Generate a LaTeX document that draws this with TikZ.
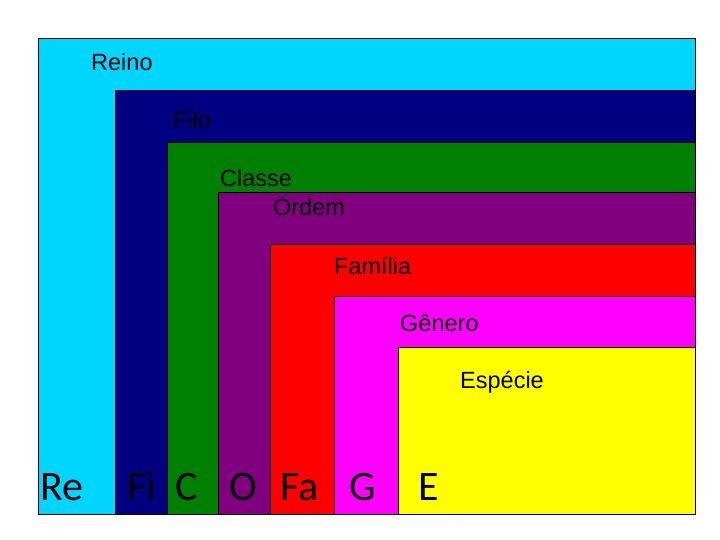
\documentclass[tikz,border=0pt]{standalone}
\usepackage{fontspec}
\setmainfont{Liberation Sans}
\newfontfamily\calib{Carlito}
\definecolor{cReino}{RGB}{0,214,255}
\definecolor{cFilo}{RGB}{0,0,128}
\definecolor{cClasse}{RGB}{0,128,0}
\definecolor{cOrdem}{RGB}{128,0,128}
\definecolor{cFam}{RGB}{255,0,0}
\definecolor{cGen}{RGB}{255,0,255}
\definecolor{cEsp}{RGB}{255,255,0}
\tikzset{
  level/.style={draw=black, line width=0.8pt},
  lab/.style={anchor=base west, inner sep=0pt, font=\fontsize{23.5}{27}\selectfont, text=black},
  abbr/.style={anchor=base west, inner sep=0pt, font=\calib\fontsize{42}{48}\selectfont, text=black}
}
\begin{document}
\begin{tikzpicture}[x=1pt,y=-1pt]
\useasboundingbox (0,0) rectangle (720,540);
\fill[white] (0,0) rectangle (720,540);
\draw[level, fill=cReino] (38,38) rectangle (695,514);
\draw[level, fill=cFilo] (115,90) rectangle (695,514);
\draw[level, fill=cClasse] (167,142) rectangle (695,514);
\draw[level, fill=cOrdem] (218,192) rectangle (695,514);
\draw[level, fill=cFam] (270,244) rectangle (695,514);
\draw[level, fill=cGen] (334,296) rectangle (695,514);
\draw[level, fill=cEsp] (398,347) rectangle (695,514);
\node[lab] (reino) at (91,71) {Reino};
\node[lab] (filo) at (173,129) {Filo};
\node[lab] (classe) at (220,187) {Classe};
\node[lab] (ordem) at (273,215) {Ordem};
\node[lab] (familia) at (334,274) {Família};
\node[lab] (genero) at (400,331) {Gênero};
\node[lab] (especie) at (460,388) {Espécie};
\node[abbr] (re) at (40,500) {Re};
\node[abbr] (fi) at (127,500) {Fi};
\node[abbr] (c) at (175,500) {C};
\node[abbr] (o) at (229,500) {O};
\node[abbr] (fa) at (280,500) {Fa};
\node[abbr] (g) at (349,500) {G};
\node[abbr] (e) at (418,500) {E};
\end{tikzpicture}
\end{document}
